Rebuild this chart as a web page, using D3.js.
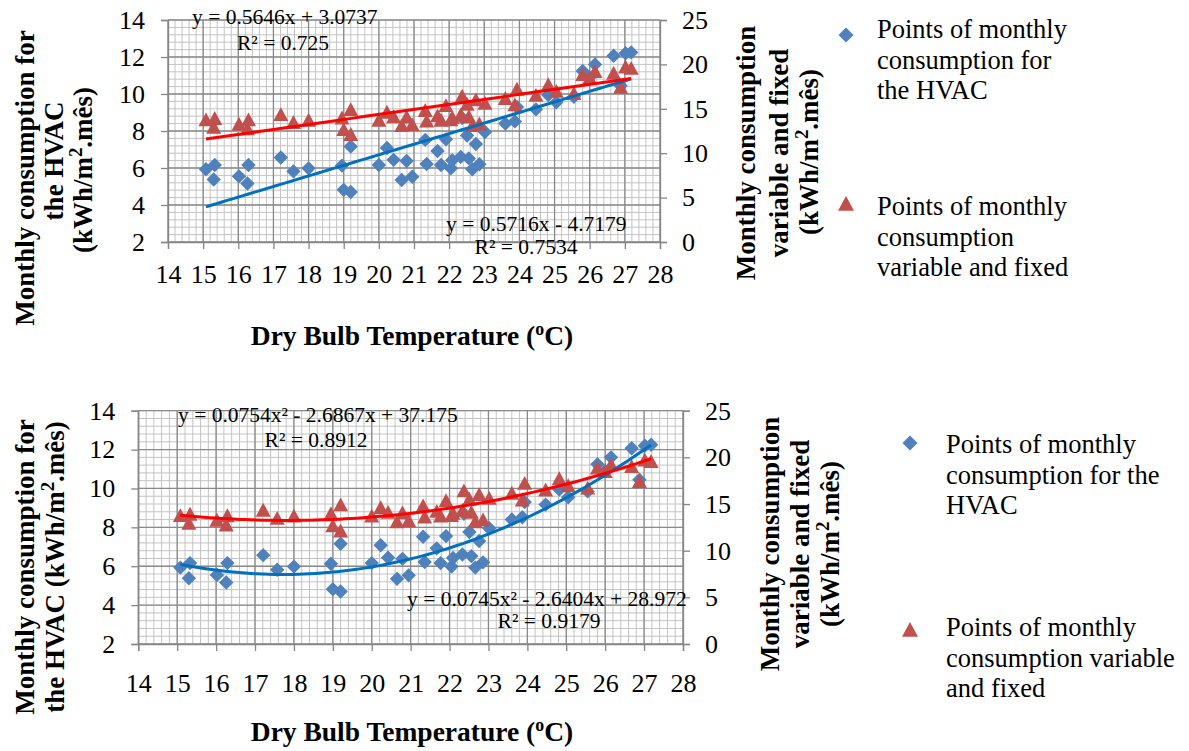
<!DOCTYPE html>
<html><head><meta charset="utf-8">
<script src="https://cdn.jsdelivr.net/npm/d3@7"></script>
<style>
html,body{margin:0;padding:0;background:#fff;}
text{font-family:"Liberation Serif","Times New Roman",serif;fill:#000;}
</style></head>
<body><svg id="chart" width="1189" height="751"></svg>
<script>
// ---------- data ----------
const temps = [15.08,15.30,15.33,16.02,16.26,16.29,17.21,17.57,18.00,18.95,19.00,19.20,19.20,
  20.00,20.23,20.42,20.65,20.79,20.95,21.32,21.36,21.67,21.77,21.91,22.05,22.09,22.33,22.37,
  22.51,22.56,22.66,22.76,22.86,23.02,23.60,23.87,23.93,24.47,24.82,25.05,25.55,25.80,26.00,
  26.15,26.68,26.88,27.02,27.18];
const hvacValues = [5.93,5.38,6.16,5.55,5.16,6.16,6.57,5.82,5.98,6.13,4.82,4.70,7.16,
  6.16,7.08,6.44,5.35,6.38,5.53,7.52,6.22,6.92,6.16,7.55,5.98,6.42,6.60,8.70,
  7.76,6.52,5.93,7.30,6.20,7.95,8.40,8.52,9.30,9.17,9.95,9.55,9.85,11.25,10.90,
  11.60,12.07,10.45,12.20,12.25];
const varFixedValues = [13.75,12.92,13.90,13.25,12.75,13.74,14.33,13.45,13.70,13.95,12.65,12.10,14.90,
  13.70,14.60,14.10,13.10,14.05,13.20,14.80,13.60,14.20,13.70,15.35,13.75,14.00,14.30,16.40,
  15.50,14.10,13.10,16.00,13.30,15.60,16.15,15.43,17.20,16.50,17.70,16.95,16.70,18.85,18.46,
  19.20,19.00,17.40,19.70,19.55];
const xTicks = [14,15,16,17,18,19,20,21,22,23,24,25,26,27,28];
const leftTicks = [2,4,6,8,10,12,14];
const rightTicks = [0,5,10,15,20,25];
// trend line coefficients (highest power first) as printed on the chart
const linHvac = [0.5716, -4.7179];
const linVarFixed = [0.5646, 3.0737];
const polyHvac = [0.0745, -2.6404, 28.972];
const polyVarFixed = [0.0754, -2.6867, 37.175];
const eqTexts = {
  top: {vf:["y = 0.5646x + 3.0737","R² = 0.725"], hv:["y = 0.5716x - 4.7179","R² = 0.7534"]},
  bottom: {vf:["y = 0.0754x² - 2.6867x + 37.175","R² = 0.8912"], hv:["y = 0.0745x² - 2.6404x + 28.972","R² = 0.9179"]}
};
const leftTitleTop = ["Monthly consumption for","the HVAC","(kWh/m².mês)"];
const leftTitleBottom = ["Monthly consumption for","the HVAC  (kWh/m².mês)"];
const rightTitle = ["Monthly consumption","variable and fixed","(kWh/m².mês)"];
const legendTop = [["Points of monthly","consumption for","the  HVAC"],["Points of monthly","consumption","variable and fixed"]];
const legendBottom = [["Points of monthly","consumption for the","HVAC"],["Points of monthly","consumption variable","and fixed"]];

const BLUE = "#4F81BD", RED = "#C0504D", BLUE_LINE = "#0070C0", RED_LINE = "#FF0000";
const FONT = "Liberation Serif";
const svg = d3.select("#chart");

function polyEval(c, x){ return c.reduce((a,k)=>a*x+k, 0); }
const diamondPath = s => `M0,${-s}L${s},0L0,${s}L${-s},0Z`;
const trianglePath = s => `M0,${-s}L${s},${s*0.85}L${-s},${s*0.85}Z`;

function superscriptText(sel, str){
  const parts = str.split("²");
  parts.forEach((p,i)=>{
    sel.append("tspan").text(p);
    if(i<parts.length-1) sel.append("tspan").attr("baseline-shift","super").attr("font-size","70%").text("2");
  });
}

function drawPanel(cfg){
  const g = svg.append("g");
  const x = d3.scaleLinear().domain([14,28]).range([cfg.x0,cfg.x1]);
  const yL = d3.scaleLinear().domain([2,14]).range([cfg.y1,cfg.y0]);
  const yR = d3.scaleLinear().domain([0,25]).range([cfg.y1,cfg.y0]);

  // minor grid
  const minorX = d3.range(14,28.0001,0.2), minorY = d3.range(2,14.0001,0.4);
  g.append("g").selectAll("line").data(minorX).join("line")
    .attr("x1",d=>x(d)).attr("x2",d=>x(d)).attr("y1",cfg.y0).attr("y2",cfg.y1)
    .attr("stroke","#c3c3c3").attr("stroke-width",1);
  g.append("g").selectAll("line").data(minorY).join("line")
    .attr("y1",d=>yL(d)).attr("y2",d=>yL(d)).attr("x1",cfg.x0).attr("x2",cfg.x1)
    .attr("stroke","#c3c3c3").attr("stroke-width",1);
  // major grid
  g.append("g").selectAll("line").data(xTicks).join("line")
    .attr("x1",d=>x(d)).attr("x2",d=>x(d)).attr("y1",cfg.y0).attr("y2",cfg.y1)
    .attr("stroke","#8a8a8a").attr("stroke-width",1.3);
  g.append("g").selectAll("line").data(leftTicks).join("line")
    .attr("y1",d=>yL(d)).attr("y2",d=>yL(d)).attr("x1",cfg.x0).attr("x2",cfg.x1)
    .attr("stroke","#8a8a8a").attr("stroke-width",1.3);

  // axes
  const axX = d3.axisBottom(x).tickValues(xTicks).tickSize(7).tickPadding(cfg.xPad).tickFormat(d3.format("d"));
  const axL = d3.axisLeft(yL).tickValues(leftTicks).tickSize(7).tickPadding(16).tickFormat(d3.format("d"));
  const axR = d3.axisRight(yR).tickValues(rightTicks).tickSize(7).tickPadding(15).tickFormat(d3.format("d"));
  const styleAx = s => { s.attr("font-family",FONT);
    s.select(".domain").attr("stroke","#868686").attr("stroke-width",1.3);
    s.selectAll(".tick line").attr("stroke","#868686").attr("stroke-width",1.3);
    s.selectAll("text").attr("font-family",FONT).attr("font-size",cfg.tickFont).attr("fill","#000"); };
  g.append("g").attr("transform",`translate(0,${cfg.y1})`).call(axX).call(styleAx);
  g.append("g").attr("transform",`translate(${cfg.x0},0)`).call(axL).call(styleAx);
  g.append("g").attr("transform",`translate(${cfg.x1},0)`).call(axR).call(styleAx);

  // points
  const data = temps.map((t,i)=>({t, h:hvacValues[i], v:varFixedValues[i]}));
  g.append("g").selectAll("path").data(data).join("path")
    .attr("d",diamondPath(7.2)).attr("fill",BLUE)
    .attr("transform",d=>`translate(${x(d.t)},${yL(d.h)})`);
  g.append("g").selectAll("path").data(data).join("path")
    .attr("d",trianglePath(7.5)).attr("fill",RED)
    .attr("transform",d=>`translate(${x(d.t)},${yR(d.v)})`);

  // trend lines
  const [xmin,xmax] = d3.extent(temps);
  const xs = d3.range(0,81).map(i=>xmin+(xmax-xmin)*i/80);
  const line = d3.line();
  g.append("path").attr("fill","none").attr("stroke",BLUE_LINE).attr("stroke-width",3)
    .attr("d",line(xs.map(t=>[x(t),yL(polyEval(cfg.fitH,t))])));
  g.append("path").attr("fill","none").attr("stroke",RED_LINE).attr("stroke-width",3)
    .attr("d",line(xs.map(t=>[x(t),yR(polyEval(cfg.fitV,t))])));

  // equations
  const eq = cfg.eq;
  const eqT = (txt,px,py,anchor)=>g.append("text").attr("font-family",FONT).attr("x",px).attr("y",py)
    .attr("font-size",21.5).attr("text-anchor",anchor).text(txt);
  eqT(eq.vf[0],cfg.eqV[0],cfg.eqV[1],"start");
  eqT(eq.vf[1],cfg.eqV[2],cfg.eqV[3],"middle");
  eqT(eq.hv[0],cfg.eqH[0],cfg.eqH[1],"start");
  eqT(eq.hv[1],cfg.eqH[2],cfg.eqH[3],"middle");

  // x title
  const xt = g.append("text").attr("font-family",FONT).attr("x",cfg.xTitle[0]).attr("y",cfg.xTitle[1])
    .attr("text-anchor","middle").attr("font-size",27.5).attr("font-weight","bold");
  xt.append("tspan").text("Dry Bulb Temperature (");
  xt.append("tspan").attr("baseline-shift","super").attr("font-size","65%").text("o");
  xt.append("tspan").text("C)");

  // y titles
  cfg.leftTitle.forEach((s,i)=>{
    const t = g.append("text").attr("font-family",FONT).attr("text-anchor","middle").attr("font-size",27).attr("font-weight","bold")
      .attr("transform",`translate(${cfg.leftTitlePos[i][0]},${cfg.leftTitlePos[i][1]}) rotate(-90)`);
    superscriptText(t,s);
  });
  rightTitle.forEach((s,i)=>{
    const t = g.append("text").attr("font-family",FONT).attr("text-anchor","middle").attr("font-size",27).attr("font-weight","bold")
      .attr("transform",`translate(${cfg.rightTitlePos[i][0]},${cfg.rightTitlePos[i][1]}) rotate(-90)`);
    superscriptText(t,s);
  });

  // legend
  const lg = cfg.legend;
  g.append("path").attr("d",diamondPath(7.5)).attr("fill",BLUE).attr("transform",`translate(${lg.mx},${lg.d})`);
  g.append("path").attr("d",trianglePath(8)).attr("fill",RED).attr("transform",`translate(${lg.mx},${lg.t})`);
  cfg.legendText[0].forEach((s,i)=>g.append("text").attr("font-family",FONT).attr("x",lg.tx).attr("y",lg.b1+i*lg.lh).attr("font-size",26.5).text(s));
  cfg.legendText[1].forEach((s,i)=>g.append("text").attr("font-family",FONT).attr("x",lg.tx).attr("y",lg.b2+i*lg.lh).attr("font-size",26.5).text(s));
}

drawPanel({x0:168,x1:660,y0:20,y1:242,tickFont:26,xPad:16,
  fitH:linHvac, fitV:linVarFixed, eq:eqTexts.top,
  eqV:[192,24,283,50], eqH:[446,231,526,254],
  xTitle:[412,345],
  leftTitle:leftTitleTop, leftTitlePos:[[34,178],[63,161],[92,170]],
  rightTitlePos:[[755,153],[788,153],[818,152]],
  legend:{mx:846,d:35,t:204,tx:877,b1:38,b2:215,lh:30.5},
  legendText:legendTop});

drawPanel({x0:138.3,x1:683,y0:410.7,y1:644,tickFont:26,xPad:23,
  fitH:polyHvac, fitV:polyVarFixed, eq:eqTexts.bottom,
  eqV:[178,422,316,447], eqH:[407,606,549,628],
  xTitle:[412,741],
  leftTitle:leftTitleBottom, leftTitlePos:[[34,567],[64,567]],
  rightTitlePos:[[779,544],[809,544],[839,544]],
  legend:{mx:910,d:443,t:630,tx:946,b1:453,b2:636,lh:30.5},
  legendText:legendBottom});
</script></body></html>
